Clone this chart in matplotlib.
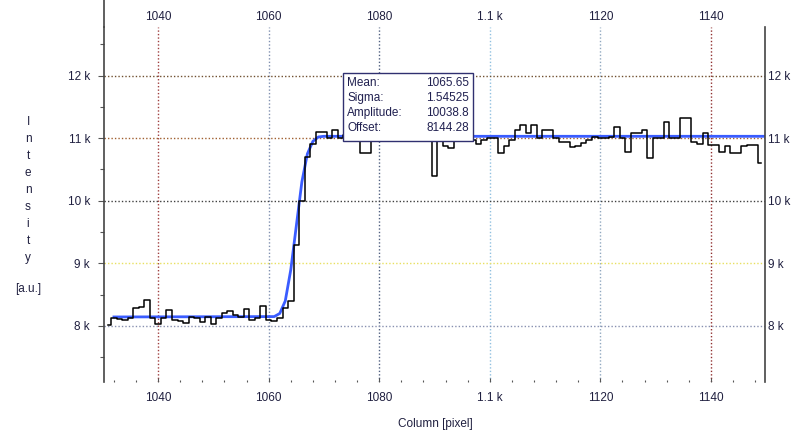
import matplotlib
matplotlib.use("Agg")
import matplotlib.pyplot as plt
from matplotlib.lines import Line2D
from matplotlib.patches import Rectangle
from matplotlib.ticker import MultipleLocator

plt.rcParams['font.family'] = ['Liberation Sans', 'DejaVu Sans']

# ---- data ----
columns = list(range(1031, 1150))
intensity = [
    8020, 8120, 8110, 8090, 8130, 8280, 8300, 8420, 8130, 8030,   # 1031-1040
    8120, 8250, 8090, 8080, 8040, 8150, 8120, 8060, 8140, 8030,   # 1041-1050
    8130, 8200, 8240, 8180, 8150, 8270, 8100, 8120, 8320, 8090,   # 1051-1060
    8080, 8130, 8280, 8400, 9300, 10000, 10700, 10900, 11100, 11100,  # 1061-1070
    11000, 11130, 11000, 11050, 11000, 10990, 10760, 10760, 11000, 11000,  # 1071-1080
    11020, 11000, 11010, 11000, 11000, 11000, 11000, 11000, 11000, 10400,  # 1081-1090
    11000, 10870, 10850, 10980, 11010, 11000, 10970, 10900, 10970, 11000,  # 1091-1100
    11000, 10770, 10870, 10970, 11130, 11210, 11080, 11210, 11000, 11130,  # 1101-1110
    11130, 11000, 10940, 10940, 10860, 10870, 10920, 10970, 11020, 11000,  # 1111-1120
    11000, 11020, 11180, 11000, 10780, 11080, 11080, 11130, 10680, 11000,  # 1121-1130
    11000, 11260, 11000, 11000, 11320, 11320, 10940, 10900, 11080, 10890,  # 1131-1140
    10890, 10780, 10870, 10760, 10760, 10870, 10890, 10890, 10600,          # 1141-1149
]
fit_x = [1032, 1061, 1062, 1063, 1064, 1065, 1066, 1067, 1068, 1069, 1070, 1150]
fit_y = [8144, 8150, 8200, 8400, 8900, 9600, 10300, 10750, 10950, 11020, 11030, 11030]

x_ticks = [1040, 1060, 1080, 1100, 1120, 1140]
x_tick_labels = ["1040", "1060", "1080", "1.1 k", "1120", "1140"]
y_ticks = [8000, 9000, 10000, 11000, 12000]
y_tick_labels = ["8 k", "9 k", "10 k", "11 k", "12 k"]
x_grid_colors = ["#a04040", "#8090b0", "#506080", "#90c0e0", "#90a8c0", "#903030"]
y_grid_colors = ["#8890b0", "#e8e060", "#404040", "#a06030", "#705030"]

stats_labels = ["Mean:", "Sigma:", "Amplitude:", "Offset:"]
stats_values = ["1065.65", "1.54525", "10038.8", "8144.28"]

TXT = "#202040"

# ---- figure ----
W, H = 793, 433
fig = plt.figure(figsize=(W / 100, H / 100), dpi=100)
ax = fig.add_axes([104 / W, 1 - 382 / H, (765 - 104) / W, (382 - 27) / H])
ax.set_xlim(1030.2, 1149.8)
ax.set_ylim(7105, 12776)

for xv, c in zip(x_ticks, x_grid_colors):
    ax.axvline(xv, color=c, lw=1.0, ls=(0, (1, 1.5)), zorder=1)
for yv, c in zip(y_ticks, y_grid_colors):
    ax.axhline(yv, color=c, lw=1.0, ls=(0, (1, 1.5)), zorder=1)

ax.plot(fit_x, fit_y, color="#3a5cff", lw=2.0, zorder=2)
ax.plot(columns, intensity, color="black", lw=1.1, drawstyle="steps-mid", zorder=3)

# spines
ax.spines["top"].set_visible(False)
ax.spines["bottom"].set_visible(False)
for s in ["left", "right"]:
    ax.spines[s].set_color("#444444")
    ax.spines[s].set_linewidth(1.2)

# bottom x axis
ax.set_xticks(x_ticks, x_tick_labels)
ax.xaxis.set_minor_locator(MultipleLocator(4))
ax.tick_params(axis="x", which="both", top=False, labeltop=False, bottom=True,
               labelbottom=True, direction="in", length=3, width=0.8,
               color="#555555", labelsize=8.5, labelcolor=TXT, pad=7)
ax.tick_params(axis="x", which="minor", length=1.5)

# top x axis (labels only)
top = ax.secondary_xaxis("top")
top.set_xticks(x_ticks, x_tick_labels)
top.tick_params(axis="x", length=0, pad=3, labelsize=8.5, labelcolor=TXT)
top.spines["top"].set_visible(False)

# left y axis
ax.set_yticks(y_ticks, y_tick_labels)
ax.yaxis.set_minor_locator(MultipleLocator(500))
ax.tick_params(axis="y", which="both", left=True, right=False, labelleft=True,
               labelright=False, direction="out", length=4, width=0.8,
               color="#555555", labelsize=8.5, labelcolor=TXT, pad=6)
ax.tick_params(axis="y", which="minor", length=3)

# right y axis (labels only)
right = ax.secondary_yaxis("right")
right.set_yticks(y_ticks, y_tick_labels)
right.tick_params(axis="y", length=0, pad=2, labelsize=8.5, labelcolor=TXT)
right.spines["right"].set_visible(False)

# axis labels
ylabel = "Intensity"
for i, ch in enumerate(ylabel):
    fig.text(28 / W, 1 - (122 + 17 * i) / H, ch, ha="center", va="center",
             fontsize=8.5, color=TXT)
fig.text(28 / W, 1 - 289 / H, "[a.u.]", ha="center", va="center", fontsize=8.5,
         color=TXT)
fig.text(435 / W, 1 - 424 / H, "Column [pixel]", ha="center", va="center",
         fontsize=8.5, color=TXT)

# extend left spine to top of figure
fig.add_artist(Line2D([104 / W, 104 / W], [1 - 27 / H, 1.0], color="#444444",
                      lw=1.2, transform=fig.transFigure))

# stats box
bx0, by0, bx1, by1 = 343, 73, 473, 141
fig.add_artist(Rectangle((bx0 / W, 1 - by1 / H), (bx1 - bx0) / W, (by1 - by0) / H,
                         transform=fig.transFigure, facecolor="white",
                         edgecolor="#303070", lw=1.0, zorder=10))
for i, (lab, val) in enumerate(zip(stats_labels, stats_values)):
    yy = 1 - (83 + 15 * i) / H
    fig.text((bx0 + 4) / W, yy, lab, ha="left", va="center", fontsize=8.5,
             color="#202050", zorder=11)
    fig.text((bx1 - 4) / W, yy, val, ha="right", va="center", fontsize=8.5,
             color="#202050", zorder=11)

fig.savefig("out.png", dpi=100)
